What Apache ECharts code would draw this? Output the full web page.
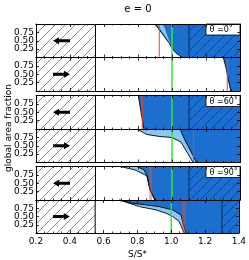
<!DOCTYPE html>
<html><head><meta charset="utf-8">
<script src="https://cdn.jsdelivr.net/npm/echarts@6/dist/echarts.min.js"></script>
<style>html,body{margin:0;padding:0;background:#fff}#c{width:249px;height:260px}</style>
</head><body><div id="c"></div>
<script>
// ---- data ----
const xTickValues = [0.2, 0.4, 0.6, 0.8, 1.0, 1.2, 1.4];
const yTickValues = [0.25, 0.5, 0.75];
const excludedRange = [0.2, 0.55];
const targetRatio = 1.0;
const thetaLabels = ['θ =0˚', '', 'θ =60˚', '', 'θ =90˚', ''];
const arrowDir = [-1, 1, -1, 1, -1, 1];
const arrowSpan = [0.30, 0.40];
const redX = [0.925, 1.325, 0.825, 1.126, 0.875, 1.075];
const hatchStart = [1.10, null, 1.10, null, 1.10, 1.30];

const p1Dark = [[0.90,1],[0.985,0.42],[1.0,0.28],[1.02,0.15],[1.045,0.05],[1.065,0]];
const p1Wedge = [[0.910,1],[0.948,1],[0.998,0.30],[0.978,0.50]];
const p2Dark = [[1.302,1],[1.318,0.69],[1.345,0]];
const p3Dark = [[0.802,1],[0.818,0.5],[0.835,0]];
const p4Light = [[0.794,1],[0.853,0.836],[0.929,0.776],[1.0,0.746],[1.053,0.61],[1.088,0.31],[1.124,0]];
const p4Dark = [[1.047,1],[1.076,0.67],[1.145,0]];
const p5Light = [[0.694,1],[0.782,0.90],[0.853,0.72],[0.871,0.30],[0.90,0]];
const p5Dark = [[0.794,1],[0.835,0.90],[0.853,0.72],[0.871,0.30],[0.90,0]];
const p6Light = [[0.694,1],[0.812,0.80],[0.910,0.70],[0.969,0.60],[1.008,0.50],[1.047,0.35],[1.076,0]];
const p6Dark = [[0.694,1],[0.772,0.90],[0.851,0.85],[0.929,0.80],[1.008,0.70],[1.057,0.55],[1.086,0]];

const lightEdges = [null, null, null, p4Light, p5Light, p6Light];
const darkEdges = [p1Dark, p2Dark, p3Dark, p4Dark, p5Dark, p6Dark];
const wedges = [p1Wedge, null, null, null, null, null];

// ---- layout / style ----
const X_MIN = 0.2, X_MAX = 1.4;
const gridTops = [24, 57.5, 95.5, 129, 166.5, 200];
const gridH = 33.5, gridLeft = 36, gridW = 204;
const FONT = 'DejaVu Sans';
const DARK = '#1c6fce', LIGHT = '#8cc8f5';

function makeHatch(color, size, lw) {
  const c = document.createElement('canvas');
  c.width = size; c.height = size;
  const g = c.getContext('2d');
  g.strokeStyle = color; g.lineWidth = lw;
  g.beginPath();
  g.moveTo(0, size); g.lineTo(size, 0);
  g.moveTo(-size, size); g.lineTo(0, 0);
  g.moveTo(size, 2 * size); g.lineTo(2 * size, size);
  g.moveTo(-1, 1); g.lineTo(1, -1);
  g.moveTo(size - 1, size + 1); g.lineTo(size + 1, size - 1);
  g.stroke();
  return c;
}
const grayHatch = { image: makeHatch('#8a8a8a', 10, 1), repeat: 'repeat' };
const darkHatch = { image: makeHatch('#143f78', 10, 0.9), repeat: 'repeat' };

function renderPanel(i) {
  return function (params, api) {
    const c = p => api.coord(p);
    const ch = [];
    const tr = c([X_MAX, 1]);
    const g0 = c([excludedRange[0], 1]), g1 = c([excludedRange[1], 0]);
    ch.push({ type: 'rect', shape: { x: g0[0], y: g0[1], width: g1[0] - g0[0], height: g1[1] - g0[1] }, style: { fill: grayHatch } });
    function region(edge, color) {
      const pts = edge.map(c);
      pts.push(c([X_MAX, 0])); pts.push(c([X_MAX, 1]));
      ch.push({ type: 'polygon', shape: { points: pts }, style: { fill: color } });
    }
    function outline(edge) {
      ch.push({ type: 'polyline', shape: { points: edge.map(c) }, style: { stroke: '#000', lineWidth: 0.9, fill: null } });
    }
    if (lightEdges[i]) region(lightEdges[i], LIGHT);
    region(darkEdges[i], DARK);
    if (wedges[i]) ch.push({ type: 'polygon', shape: { points: wedges[i].map(c) }, style: { fill: LIGHT } });
    if (lightEdges[i]) outline(lightEdges[i]);
    outline(darkEdges[i]);
    if (hatchStart[i] != null) {
      const h0 = c([hatchStart[i], 1]), h1 = c([X_MAX, 0]);
      ch.push({ type: 'rect', shape: { x: h0[0], y: h0[1], width: h1[0] - h0[0], height: h1[1] - h0[1] }, style: { fill: darkHatch } });
      ch.push({ type: 'line', shape: { x1: h0[0], y1: h0[1], x2: h0[0], y2: h1[1] }, style: { stroke: '#17365f', lineWidth: 1.2 } });
    }
    const r0 = c([redX[i], 1]), r1 = c([redX[i], 0]);
    if (i >= 4) {
      ch.push({ type: 'line', shape: { x1: r0[0], y1: r0[1], x2: r1[0], y2: r1[1] }, style: { stroke: 'rgba(236,80,40,0.5)', lineWidth: 3 } });
    } else {
      ch.push({ type: 'line', shape: { x1: r0[0], y1: r0[1], x2: r1[0], y2: r1[1] }, style: { stroke: '#e8461c', lineWidth: 1 } });
    }
    const t0 = c([targetRatio, 1]), t1 = c([targetRatio, 0]);
    ch.push({ type: 'line', shape: { x1: t0[0], y1: t0[1], x2: t1[0], y2: t1[1] }, style: { stroke: '#2ee82e', lineWidth: 1.5 } });
    ch.push({ type: 'line', shape: { x1: g1[0], y1: g0[1], x2: g1[0], y2: g1[1] }, style: { stroke: '#000', lineWidth: 1 } });
    const a = c([arrowSpan[0], 0.5]), b = c([arrowSpan[1], 0.5]);
    const tip = arrowDir[i] < 0 ? a : b, tail = arrowDir[i] < 0 ? b : a;
    const d = arrowDir[i], y = tip[1], hl = 6, hw = 3.6, sw = 1.5;
    const base = tip[0] - d * hl;
    ch.push({ type: 'polygon', shape: { points: [
      [tail[0], y - sw], [base, y - sw], [base, y - hw], [tip[0], y], [base, y + hw], [base, y + sw], [tail[0], y + sw]
    ] }, style: { fill: '#000' } });
    if (thetaLabels[i]) {
      ch.push({ type: 'rect', shape: { x: tr[0] - 34, y: tr[1], width: 34, height: 11 }, style: { fill: '#fff', stroke: '#000', lineWidth: 0.8 } });
      ch.push({ type: 'text', style: { text: thetaLabels[i], x: tr[0] - 30.5, y: tr[1] + 6, align: 'left', verticalAlign: 'middle', fontSize: 8, fontFamily: FONT, fill: '#000' } });
    }
    return { type: 'group', children: ch };
  };
}

const grids = [], xAxes = [], yAxes = [], series = [];
const tickStyle = { color: '#000', width: 0.8 };
for (let i = 0; i < 6; i++) {
  grids.push({ left: gridLeft, top: gridTops[i], width: gridW, height: gridH });
  ['bottom', 'top'].forEach(pos => {
    const showLab = (i === 5 && pos === 'bottom');
    xAxes.push({
      gridIndex: i, type: 'value', min: X_MIN, max: X_MAX, interval: 0.2, position: pos, z: 10,
      axisLine: { show: true, onZero: false, lineStyle: { color: '#000', width: 1 } },
      axisTick: { show: true, inside: true, length: 3, lineStyle: tickStyle },
      minorTick: { show: true, splitNumber: 4, length: 1.5, lineStyle: tickStyle },
      splitLine: { show: false },
      axisLabel: { show: showLab, color: '#000', fontSize: 9, fontFamily: FONT, margin: 4,
        formatter: v => v.toFixed(1) },
      name: showLab ? 'S/S*' : '', nameLocation: 'middle', nameGap: 17,
      nameTextStyle: { color: '#000', fontSize: 9, fontFamily: FONT }
    });
  });
  ['left', 'right'].forEach(pos => {
    yAxes.push({
      gridIndex: i, type: 'value', min: 0, max: 1, interval: 0.25, position: pos, z: 10,
      axisLine: { show: true, onZero: false, lineStyle: { color: '#000', width: 1 } },
      axisTick: { show: true, inside: true, length: 3, lineStyle: tickStyle },
      splitLine: { show: false },
      axisLabel: { show: pos === 'left', color: '#000', fontSize: 9, fontFamily: FONT, margin: 2,
        showMinLabel: false, showMaxLabel: false,
        formatter: v => yTickValues.some(t => Math.abs(t - v) < 1e-6) ? v.toFixed(2) : '' }
    });
  });
  series.push({ type: 'custom', xAxisIndex: 2 * i, yAxisIndex: 2 * i, data: [[0, 0]], clip: false, silent: true,
    renderItem: renderPanel(i) });
}

const chart = echarts.init(document.getElementById('c'), null, { renderer: 'canvas' });
chart.setOption({
  animation: false,
  backgroundColor: '#fff',
  grid: grids, xAxis: xAxes, yAxis: yAxes, series: series,
  graphic: [
    { type: 'text', x: 138, y: 9, style: { text: 'e = 0', align: 'center', verticalAlign: 'middle', fontSize: 10, fontFamily: FONT, fill: '#000' } },
    { type: 'text', x: 9, y: 128, rotation: Math.PI / 2, style: { text: 'global area fraction', align: 'center', verticalAlign: 'middle', fontSize: 9, fontFamily: FONT, fill: '#000' } }
  ]
});
</script></body></html>
